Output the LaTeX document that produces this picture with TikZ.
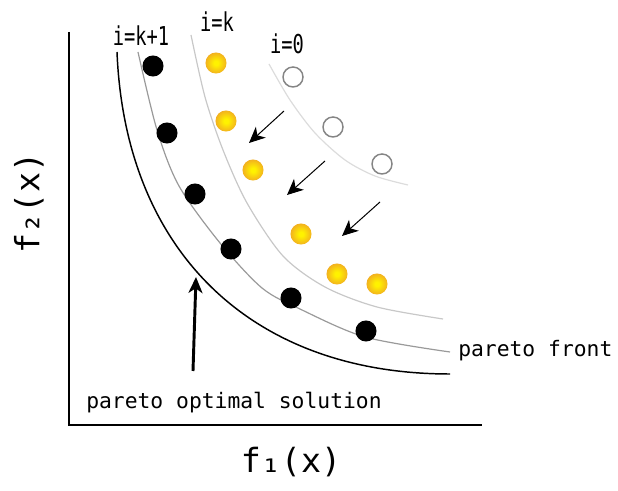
\documentclass[tikz,border=0pt]{standalone}
\usepackage{fontspec}
\setmainfont{DejaVu Sans Mono}
\usepackage{tikz}
\usetikzlibrary{arrows.meta}
\definecolor{FrontGrey}{HTML}{9A9A9A}
\definecolor{IterKGrey}{HTML}{C8C8C8}
\definecolor{IterZeroGrey}{HTML}{DCDCDC}
\definecolor{RingGrey}{HTML}{858585}
\definecolor{DotYellow}{HTML}{FFF200}
\definecolor{DotOrange}{HTML}{EFA226}
\pgfdeclareradialshading{goldball}{\pgfpoint{0bp}{0bp}}{color(0bp)=(DotYellow); color(5bp)=(DotYellow); color(30bp)=(DotOrange); color(50bp)=(DotOrange)}
\tikzset{
    every node/.style={font=\fontsize{16}{18}\selectfont, inner sep=0pt},
    solblack/.style={circle, fill=black, minimum size=15.8pt},
    solgold/.style={circle, shade, shading=goldball, minimum size=15.8pt},
    solopen/.style={circle, draw=RingGrey, line width=1.1pt, fill=white, minimum size=15pt},
    iterlabel/.style={font=\fontsize{19.5}{21}\selectfont},
    axislabel/.style={font=\fontsize{25}{28}\selectfont},
    moveto/.style={-{Stealth[length=12pt, width=11pt, inset=3.5pt]}, line width=0.75pt},
    pointto/.style={-{Stealth[length=12pt, width=10.5pt, inset=3.5pt]}, line width=2.2pt},
}
\newcommand{\narrowtext}[1]{\scalebox{0.72}[1]{#1}}

\begin{document}
\begin{tikzpicture}[x=0.75pt, y=-0.75pt]
    \useasboundingbox (0,0) rectangle (618,491);

    % axes
    \draw[line width=1.1pt] (69,32) -- (69,425) -- (482,425);
    \node[axislabel] (lblfone) at (291,462) {f₁(x)};
    \node[axislabel, rotate=90] (lblftwo) at (29,203) {f₂(x)};

    % generation i=0
    \draw[IterZeroGrey, line width=0.9pt] plot[smooth] coordinates {(269,64) (290,100) (315,133) (345,160) (375,176) (408,185)};
    % generation i=k
    \draw[IterKGrey, line width=0.9pt] plot[smooth] coordinates {(191,35) (205,97) (223,150) (247,203) (283,256) (325,287) (377,307) (443,319)};
    % generation i=k+1
    \draw[FrontGrey, line width=0.9pt] plot[smooth] coordinates {(138,52) (157,130) (179,186) (220,243) (262,288) (300,309) (365,337) (450,352)};
    % pareto optimal front
    \draw[black, line width=1.1pt] (117,52) .. controls (125,250) and (250,374) .. (450,374);

    % solutions i=0
    \node[solopen] (z1) at (293,77) {};
    \node[solopen] (z2) at (333,127) {};
    \node[solopen] (z3) at (382,164) {};

    % solutions i=k
    \node[solgold] (k1) at (216,63) {};
    \node[solgold] (k2) at (226,121) {};
    \node[solgold] (k3) at (253,170) {};
    \node[solgold] (k4) at (301,234) {};
    \node[solgold] (k5) at (337,274) {};
    \node[solgold] (k6) at (377,284) {};

    % solutions i=k+1
    \node[solblack] (n1) at (153,66) {};
    \node[solblack] (n2) at (167,133) {};
    \node[solblack] (n3) at (195,194) {};
    \node[solblack] (n4) at (231,249) {};
    \node[solblack] (n5) at (291,298) {};
    \node[solblack] (n6) at (366,331) {};

    % labels
    \node[iterlabel] (lblkone) at (141,36) {\narrowtext{i=k+1}};
    \node[iterlabel] (lblk) at (217,22) {\narrowtext{i=k}};
    \node[iterlabel] (lblzero) at (287,44) {\narrowtext{i=0}};
    \node[anchor=west] (lblfront) at (458,351) {pareto front};
    \node[anchor=west] (lblopt) at (86,403) {pareto optimal solution};

    % search direction
    \coordinate (m1a) at (284,111);
    \coordinate (m1b) at (249,143);
    \coordinate (m2a) at (325,161);
    \coordinate (m2b) at (287,195);
    \coordinate (m3a) at (380,202);
    \coordinate (m3b) at (342,236);
    \draw[moveto] (m1a) -- (m1b);
    \draw[moveto] (m2a) -- (m2b);
    \draw[moveto] (m3a) -- (m3b);

    % pointer to optimal front
    \coordinate (optfoot) at (193,371);
    \coordinate (opthead) at (196,277);
    \draw[pointto] (optfoot) -- (opthead);
\end{tikzpicture}
\end{document}
